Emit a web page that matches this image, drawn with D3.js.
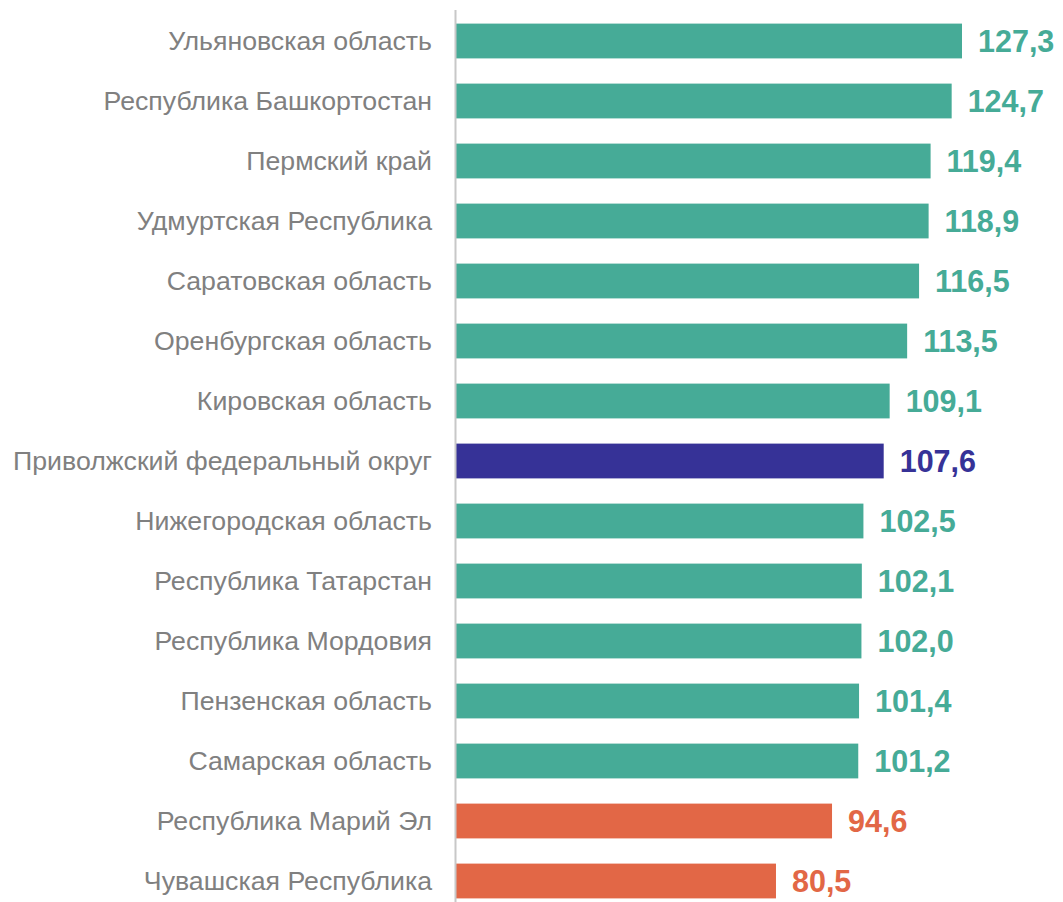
<!DOCTYPE html>
<html>
<head>
<meta charset="utf-8">
<script src="https://cdn.jsdelivr.net/npm/d3@7"></script>
<style>
  body { margin: 0; background: #fff; }
  svg { font-family: "Liberation Sans", Arial, sans-serif; }
</style>
</head>
<body>
<div id="chart-area"></div>
<script>
// регионы ПФО, значения сверху вниз
var regions = [
  "Ульяновская область", "Республика Башкортостан", "Пермский край",
  "Удмуртская Республика", "Саратовская область", "Оренбургская область",
  "Кировская область", "Приволжский федеральный округ", "Нижегородская область",
  "Республика Татарстан", "Республика Мордовия", "Пензенская область",
  "Самарская область", "Республика Марий Эл", "Чувашская Республика"
];
var values = [127.3, 124.7, 119.4, 118.9, 116.5, 113.5, 109.1, 107.6, 102.5,
  102.1, 102.0, 101.4, 101.2, 94.6, 80.5];
var kinds = ["up", "up", "up", "up", "up", "up", "up", "total", "up",
  "up", "up", "up", "up", "down", "down"];

var colors = { up: "#46ab97", total: "#363297", down: "#e26746" };

var width = 1063, height = 902;

var svg = d3.select("#chart-area")
    .append("svg")
    .attr("width", width)
    .attr("height", height);

var data = regions.map(function(r, i) {
    return { name: r, value: values[i], kind: kinds[i] };
});

var x = d3.scaleLinear()
    .domain([0, 127.3])
    .range([456, 962]);

var y = d3.scaleBand()
    .domain(regions)
    .range([11, 911])
    .paddingInner(0.42)
    .paddingOuter(0.21);

svg.selectAll("rect.bar")
    .data(data)
    .enter()
    .append("rect")
    .attr("class", "bar")
    .attr("x", x(0))
    .attr("y", d => y(d.name))
    .attr("width", d => x(d.value) - x(0))
    .attr("height", y.bandwidth())
    .attr("fill", d => colors[d.kind]);

// ось слева
svg.append("line")
    .attr("x1", x(0) - 0.5).attr("x2", x(0) - 0.5)
    .attr("y1", 10).attr("y2", height)
    .attr("stroke", "#c8c8c8")
    .attr("stroke-width", 2);

svg.selectAll("text.cat")
    .data(data)
    .enter()
    .append("text")
    .attr("class", "cat")
    .attr("x", x(0) - 24)
    .attr("y", d => y(d.name) + y.bandwidth() / 2)
    .attr("dy", "0.35em")
    .attr("text-anchor", "end")
    .attr("font-size", 26.7)
    .attr("fill", "#808080")
    .text(d => d.name);

svg.selectAll("text.val")
    .data(data)
    .enter()
    .append("text")
    .attr("class", "val")
    .attr("x", d => x(d.value) + 16)
    .attr("y", d => y(d.name) + y.bandwidth() / 2)
    .attr("dy", "0.36em")
    .attr("font-size", 30.5)
    .attr("font-weight", "bold")
    .attr("fill", d => colors[d.kind])
    .text(d => d3.format(".1f")(d.value).replace(".", ","));
</script>
</body>
</html>
